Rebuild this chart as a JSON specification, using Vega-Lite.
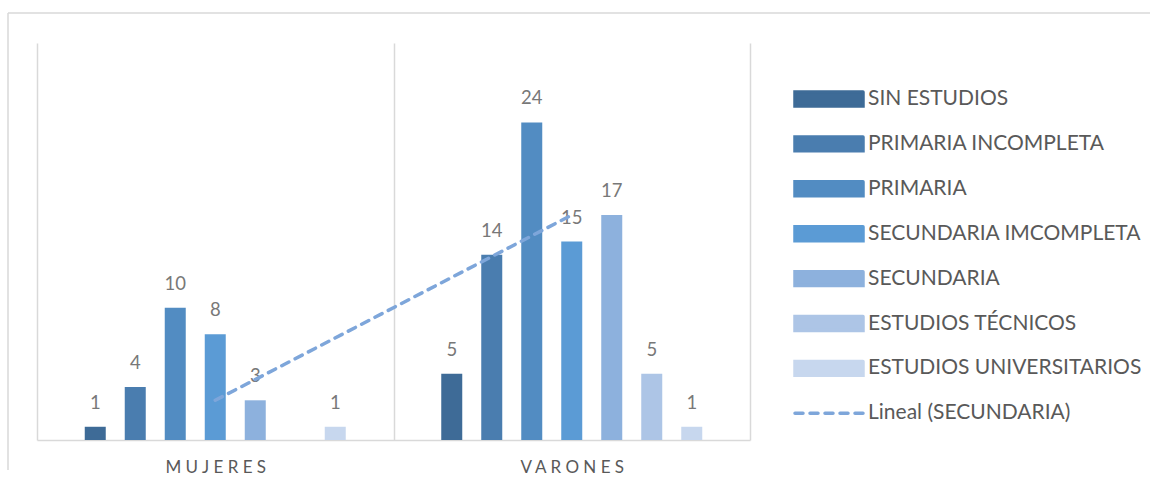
{
  "$schema": "https://vega.github.io/schema/vega-lite/v6.json",
  "width": 1142,
  "height": 457,
  "autosize": {"type": "none"},
  "padding": {"left": 8, "top": 13, "right": 0, "bottom": 18},
  "background": "white",
  "config": {
    "view": {"stroke": "#D9D9D9", "strokeWidth": 1.5, "strokeDash": [1142, 1599, 457, 0]},
    "font": "Lato"
  },
  "data": {
    "values": [
      {"sexo": "MUJERES", "nivel": "SIN ESTUDIOS", "n": 1},
      {"sexo": "MUJERES", "nivel": "PRIMARIA INCOMPLETA", "n": 4},
      {"sexo": "MUJERES", "nivel": "PRIMARIA", "n": 10},
      {"sexo": "MUJERES", "nivel": "SECUNDARIA IMCOMPLETA", "n": 8},
      {"sexo": "MUJERES", "nivel": "SECUNDARIA", "n": 3},
      {"sexo": "MUJERES", "nivel": "ESTUDIOS UNIVERSITARIOS", "n": 1},
      {"sexo": "VARONES", "nivel": "SIN ESTUDIOS", "n": 5},
      {"sexo": "VARONES", "nivel": "PRIMARIA INCOMPLETA", "n": 14},
      {"sexo": "VARONES", "nivel": "PRIMARIA", "n": 24},
      {"sexo": "VARONES", "nivel": "SECUNDARIA IMCOMPLETA", "n": 15},
      {"sexo": "VARONES", "nivel": "SECUNDARIA", "n": 17},
      {"sexo": "VARONES", "nivel": "ESTUDIOS TÉCNICOS", "n": 5},
      {"sexo": "VARONES", "nivel": "ESTUDIOS UNIVERSITARIOS", "n": 1}
    ]
  },
  "encoding": {
    "x": {
      "field": "sexo",
      "type": "nominal",
      "scale": {"range": [29, 742], "paddingInner": 0, "paddingOuter": 0},
      "axis": {
        "title": null,
        "labelAngle": 0,
        "offset": -30,
        "ticks": false,
        "tickBand": "extent",
        "grid": true,
        "gridColor": "#D9D9D9",
        "gridWidth": 1.5,
        "domainColor": "#D9D9D9",
        "domainWidth": 1.5,
        "labelFont": "Lato",
        "labelFontSize": 17,
        "labelColor": "#595959",
        "labelPadding": 19,
        "labelExpr": "join(split(datum.label, ''), ' ')"
      }
    },
    "y": {
      "field": "n",
      "type": "quantitative",
      "scale": {"domain": [0, 30], "range": [427, 30]},
      "axis": null
    }
  },
  "layer": [
    {
      "mark": {"type": "bar"},
      "encoding": {
        "xOffset": {
          "field": "nivel",
          "type": "nominal",
          "scale": {
            "domain": ["SIN ESTUDIOS", "PRIMARIA INCOMPLETA", "PRIMARIA", "SECUNDARIA IMCOMPLETA", "SECUNDARIA", "ESTUDIOS TÉCNICOS", "ESTUDIOS UNIVERSITARIOS"],
            "range": [47.75, 308.75],
            "paddingInner": 0.475,
            "paddingOuter": 0
          }
        },
        "color": {
          "field": "nivel",
          "type": "nominal",
          "scale": {
            "domain": ["SIN ESTUDIOS", "PRIMARIA INCOMPLETA", "PRIMARIA", "SECUNDARIA IMCOMPLETA", "SECUNDARIA", "ESTUDIOS TÉCNICOS", "ESTUDIOS UNIVERSITARIOS", "Lineal (SECUNDARIA)"],
            "range": ["#3E6B97", "#4A7DAF", "#528CC2", "#5B9BD5", "#8DB1DD", "#ADC5E6", "#C7D7EE", "#7EA6DA"]
          },
          "legend": {
            "title": null,
            "orient": "none",
            "legendX": 802,
            "legendY": 67,
            "padding": 0,
            "symbolType": "M-2,-0.41H2V0.41H-2Z",
            "symbolSize": 1156,
            "labelOffset": 20,
            "rowPadding": 11.9,
            "labelFont": "Lato",
            "labelFontSize": 21,
            "labelColor": "#595959",
            "labelLimit": 400,
            "encode": {
              "symbols": {
                "update": {
                  "shape": {"signal": "datum.value === 'Lineal (SECUNDARIA)' ? 'M-2,0H2' : 'M-2,-0.41H2V0.41H-2Z'"},
                  "fill": {"signal": "datum.value === 'Lineal (SECUNDARIA)' ? 'transparent' : scale('color', datum.value)"},
                  "stroke": {"signal": "datum.value === 'Lineal (SECUNDARIA)' ? '#7EA6DA' : 'transparent'"},
                  "strokeDash": {"signal": "datum.value === 'Lineal (SECUNDARIA)' ? [8, 7] : [1, 0]"},
                  "strokeWidth": {"value": 3.5},
                  "strokeCap": {"value": "round"},
                  "opacity": {"value": 1}
                }
              }
            }
          }
        }
      }
    },
    {
      "mark": {"type": "text", "baseline": "alphabetic", "dy": -18, "font": "Lato", "fontSize": 18.5, "color": "#787878"},
      "encoding": {
        "xOffset": {"field": "nivel", "type": "nominal"},
        "text": {"field": "n", "type": "quantitative"}
      }
    },
    {
      "transform": [{"filter": "datum.nivel === 'SECUNDARIA'"}],
      "mark": {"type": "line", "strokeDash": [8, 7], "strokeWidth": 3.5, "strokeCap": "round"},
      "encoding": {
        "color": {"datum": "Lineal (SECUNDARIA)"}
      }
    }
  ]
}
